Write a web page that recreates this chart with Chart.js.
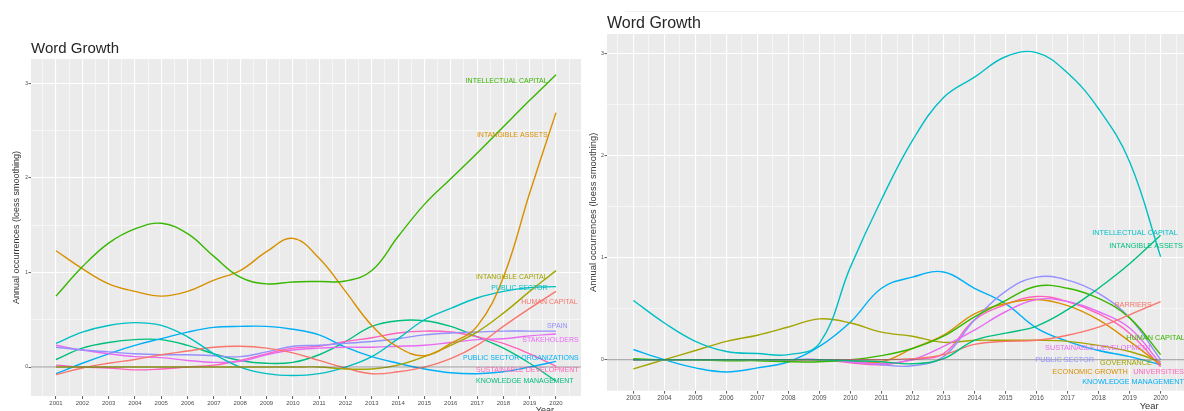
<!DOCTYPE html>
<html>
<head>
<meta charset="utf-8">
<script src="https://cdn.jsdelivr.net/npm/chart.js@4"></script>
<style>
  html, body { margin: 0; padding: 0; background: #fff; overflow: hidden; }
  body { width: 1184px; height: 411px; position: relative; }
  #left { position: absolute; left: 0; top: 0; }
  #right { position: absolute; left: 585px; top: 0; }
  #rule { position: absolute; left: 625px; top: 11px; width: 559px; height: 1px; background: #f1f1f1; }
</style>
</head>
<body>
<canvas id="left" width="585" height="411"></canvas>
<div id="rule"></div>
<canvas id="right" width="605" height="411"></canvas>
<script>
// ---- left panel data (2001-2020) ----
const leftYears = [2001,2002,2003,2004,2005,2006,2007,2008,2009,2010,2011,2012,2013,2014,2015,2016,2017,2018,2019,2020];
const leftIntellectualCapital = [0.75,1.06,1.31,1.46,1.52,1.41,1.17,0.95,0.88,0.90,0.905,0.91,1.02,1.38,1.72,1.99,2.26,2.54,2.82,3.09];
const leftIntangibleAssets    = [1.23,1.04,0.88,0.80,0.75,0.80,0.92,1.02,1.22,1.36,1.15,0.80,0.44,0.21,0.12,0.25,0.43,0.95,1.84,2.69];
const leftIntangibleCapital   = [0,0,0,0,0,0,0,0,0,0,0,-0.02,-0.02,0.02,0.11,0.23,0.37,0.57,0.80,1.02];
const leftPublicSector        = [0.25,0.37,0.44,0.47,0.44,0.32,0.14,0.00,-0.07,-0.09,-0.07,0.00,0.11,0.30,0.50,0.62,0.73,0.80,0.84,0.85];
const leftHumanCapital        = [-0.08,-0.01,0.04,0.08,0.13,0.17,0.21,0.22,0.20,0.15,0.07,-0.01,-0.07,-0.05,0.00,0.09,0.23,0.43,0.62,0.80];
const leftSpain               = [0.21,0.18,0.16,0.14,0.13,0.13,0.12,0.11,0.16,0.22,0.23,0.25,0.27,0.30,0.34,0.36,0.37,0.38,0.38,0.38];
const leftStakeholders        = [0.23,0.18,0.14,0.11,0.10,0.07,0.05,0.06,0.13,0.18,0.20,0.21,0.21,0.22,0.23,0.26,0.29,0.30,0.33,0.35];
const leftPublicSectorOrgs    = [-0.07,0.04,0.14,0.23,0.30,0.37,0.42,0.43,0.43,0.40,0.34,0.21,0.11,0.04,-0.02,-0.06,-0.07,-0.05,0.00,0.06];
const leftSustainableDev      = [0.02,0.00,-0.01,-0.03,-0.02,0.00,0.02,0.07,0.14,0.20,0.22,0.27,0.31,0.36,0.38,0.37,0.32,0.25,0.14,0.01];
const leftKnowledgeMgmt       = [0.08,0.20,0.26,0.29,0.29,0.23,0.14,0.07,0.04,0.05,0.13,0.27,0.43,0.49,0.49,0.43,0.32,0.20,0.04,-0.15];

const leftNames = ['INTELLECTUAL CAPITAL','INTANGIBLE ASSETS','INTANGIBLE CAPITAL','PUBLIC SECTOR','HUMAN CAPITAL',
  'SPAIN','STAKEHOLDERS','PUBLIC SECTOR ORGANIZATIONS','SUSTAINABLE DEVELOPMENT','KNOWLEDGE MANAGEMENT'];
const leftSeries = [leftIntellectualCapital,leftIntangibleAssets,leftIntangibleCapital,leftPublicSector,leftHumanCapital,
  leftSpain,leftStakeholders,leftPublicSectorOrgs,leftSustainableDev,leftKnowledgeMgmt];
const leftColors = ['#39B600','#D89000','#A3A500','#00BFC4','#F8766D','#9590FF','#E76BF3','#00B0F6','#FF62BC','#00BF7D'];
// where each text label sits (year of its right end, value)
const leftLabelYear  = [2019.68,2019.68,2019.68,2019.68,2020.82,2020.44,2020.86,2020.86,2020.86,2020.67];
const leftLabelValue = [3.02,2.45,0.95,0.84,0.69,0.43,0.29,0.09,-0.03,-0.145];
const leftYTicks = [0,1,2,3];

// ---- right panel data (2003-2020) ----
const rightYears = [2003,2004,2005,2006,2007,2008,2009,2010,2011,2012,2013,2014,2015,2016,2017,2018,2019,2020];
const rightIntellectualCapital = [0.58,0.36,0.18,0.08,0.06,0.05,0.16,0.91,1.57,2.15,2.57,2.77,2.97,3.01,2.81,2.46,1.94,1.01];
const rightIntangibleAssets    = [0,0,0,0,0,0,0,-0.01,-0.02,-0.04,0.01,0.19,0.26,0.33,0.49,0.70,0.94,1.22];
const rightBarriers            = [0,0,0,0,0,0,0,0,0,0.01,0.05,0.15,0.18,0.19,0.24,0.32,0.44,0.57];
const rightHumanCapital        = [0.01,0,0,-0.01,-0.01,-0.02,-0.02,0,0.04,0.11,0.23,0.42,0.58,0.72,0.70,0.60,0.41,0.05];
const rightSustainableDev      = [0,0,0,0,0,0,0,-0.02,-0.04,0,0.13,0.29,0.47,0.59,0.57,0.47,0.31,-0.04];
const rightPublicSector        = [0,0,0,0,0,0,0,-0.02,-0.05,-0.06,0.03,0.39,0.67,0.81,0.78,0.65,0.41,0];
const rightGovernance          = [-0.09,0,0.09,0.18,0.24,0.32,0.40,0.36,0.27,0.23,0.17,0.19,0.19,0.19,0.18,0.14,0.08,-0.02];
const rightEconomicGrowth      = [0,0,0,0,0,0,0,-0.01,-0.02,0.11,0.24,0.45,0.55,0.59,0.53,0.39,0.18,-0.05];
const rightUniversities        = [0,0,0,0,0,0,0,-0.03,-0.05,0,0.06,0.39,0.54,0.62,0.57,0.45,0.26,-0.07];
const rightKnowledgeMgmt       = [0.10,0,-0.08,-0.12,-0.08,-0.02,0.13,0.37,0.70,0.81,0.86,0.70,0.55,0.31,0.18,0.09,0.03,-0.05];

const rightNames = ['INTELLECTUAL CAPITAL','INTANGIBLE ASSETS','BARRIERS','HUMAN CAPITAL','SUSTAINABLE DEVELOPMENT',
  'PUBLIC SECTOR','GOVERNANCE','ECONOMIC GROWTH','UNIVERSITIES','KNOWLEDGE MANAGEMENT'];
const rightSeries = [rightIntellectualCapital,rightIntangibleAssets,rightBarriers,rightHumanCapital,rightSustainableDev,
  rightPublicSector,rightGovernance,rightEconomicGrowth,rightUniversities,rightKnowledgeMgmt];
const rightColors = ['#00BFC4','#00BF7D','#F8766D','#39B600','#E76BF3','#9590FF','#A3A500','#D89000','#FF62BC','#00B0F6'];
const rightLabelYear  = [2020.55,2020.72,2019.72,2020.78,2019.72,2017.85,2019.72,2018.94,2020.75,2020.75];
const rightLabelValue = [1.24,1.11,0.54,0.21,0.11,0.0,-0.03,-0.12,-0.12,-0.22];
const rightYTicks = [0,1,2,3];

const FONT = '"Liberation Sans", Arial, Helvetica, sans-serif';

const ggplot = {
  id: 'ggplot',
  beforeDraw(chart) {
    const {ctx, chartArea: a} = chart;
    ctx.save();
    ctx.fillStyle = '#EBEBEB';
    ctx.fillRect(a.left, a.top, a.right - a.left, a.bottom - a.top);
    ctx.restore();
  },
  afterDatasetsDraw(chart, args, o) {
    const {ctx, chartArea: a, scales: {x, y}} = chart;
    // horizontal reference line at zero
    ctx.save();
    ctx.beginPath();
    ctx.rect(a.left, a.top, a.right - a.left, a.bottom - a.top);
    ctx.clip();
    const y0 = y.getPixelForValue(0);
    ctx.strokeStyle = 'rgba(90,90,90,0.6)';
    ctx.lineWidth = 1;
    ctx.beginPath();
    ctx.moveTo(a.left, y0);
    ctx.lineTo(a.right, y0);
    ctx.stroke();
    ctx.restore();

    ctx.save();
    ctx.font = o.labelSize + 'px ' + FONT;
    ctx.textAlign = 'right';
    ctx.textBaseline = 'middle';
    o.names.forEach((n, i) => {
      ctx.fillStyle = o.colors[i];
      ctx.fillText(n, x.getPixelForValue(o.labelYear[i]), y.getPixelForValue(o.labelValue[i]));
    });
    ctx.textAlign = 'left';
    ctx.textBaseline = 'alphabetic';
    ctx.fillStyle = '#262626';
    ctx.font = o.titleSize + 'px ' + FONT;
    ctx.fillText('Word Growth', a.left, a.top - 6);
    ctx.textAlign = 'right';
    ctx.fillStyle = '#333';
    ctx.font = o.yearSize + 'px ' + FONT;
    ctx.fillText('Year', x.getPixelForValue(o.lastYear) - 2, a.bottom + o.yearDrop);
    ctx.restore();
  }
};

function buildChart(id, years, names, series, colors, labelYear, labelValue, yTicks, look) {
  const span = years[years.length - 1] - years[0];
  const xMin = years[0] - 0.05 * span;
  const xMax = years[years.length - 1] + 0.05 * span;
  const xGrid = [];
  for (let v = years[0] - 0.5; v <= years[years.length - 1] + 0.5; v += 0.5) xGrid.push(v);
  const yGrid = [];
  for (let v = -0.5; v <= 3.5; v += 0.5) if (v >= look.yMin && v <= look.yMax) yGrid.push(v);
  const isMajorX = v => years.includes(v);
  const isMajorY = v => yTicks.includes(v);

  new Chart(document.getElementById(id), {
    type: 'line',
    data: {
      datasets: series.map((vals, i) => ({
        label: names[i],
        data: vals.map((v, j) => ({x: years[j], y: v})),
        borderColor: colors[i],
        borderWidth: 1.4,
        pointRadius: 0,
        tension: 0.4,
        fill: false
      }))
    },
    options: {
      responsive: false,
      animation: false,
      events: [],
      layout: {padding: {top: look.padTop, right: look.padRight, left: 0, bottom: 0}},
      plugins: {
        legend: {display: false},
        tooltip: {enabled: false},
        ggplot: {names, colors, labelYear, labelValue, lastYear: years[years.length - 1],
          labelSize: look.labelSize, titleSize: look.titleSize, yearSize: look.yearSize, yearDrop: look.yearDrop}
      },
      scales: {
        x: {
          type: 'linear',
          min: xMin,
          max: xMax,
          afterBuildTicks: s => { s.ticks = xGrid.map(v => ({value: v})); },
          afterFit: s => { s.height = look.xHeight; },
          ticks: {
            autoSkip: false, maxRotation: 0, minRotation: 0, padding: 1,
            color: '#4D4D4D', font: {family: FONT, size: look.tickSize},
            callback: v => isMajorX(v) ? String(v) : ''
          },
          grid: {
            color: '#FFFFFF',
            lineWidth: c => (c.tick && isMajorX(c.tick.value)) ? 1.1 : 0.55,
            tickLength: 3,
            tickWidth: 0.8,
            tickColor: c => (c.tick && isMajorX(c.tick.value)) ? '#333333' : 'rgba(0,0,0,0)'
          },
          border: {display: false}
        },
        y: {
          type: 'linear',
          min: look.yMin,
          max: look.yMax,
          afterBuildTicks: s => { s.ticks = yGrid.map(v => ({value: v})); },
          afterFit: s => { s.width = look.yWidth; },
          ticks: {
            padding: 0.5, color: '#4D4D4D', font: {family: FONT, size: look.yTickSize},
            callback: v => isMajorY(v) ? String(v) : ''
          },
          grid: {
            color: '#FFFFFF',
            lineWidth: c => (c.tick && isMajorY(c.tick.value)) ? 1.1 : 0.55,
            tickLength: 2.5,
            tickWidth: 0.8,
            tickColor: c => (c.tick && isMajorY(c.tick.value)) ? '#333333' : 'rgba(0,0,0,0)'
          },
          border: {display: false},
          title: {
            display: true,
            text: 'Annual occurrences (loess smoothing)',
            color: '#333',
            font: {family: FONT, size: look.axisTitleSize},
            padding: {top: look.axisTitlePad, bottom: 0}
          }
        }
      }
    },
    plugins: [ggplot]
  });
}

buildChart('left', leftYears, leftNames, leftSeries, leftColors, leftLabelYear, leftLabelValue, leftYTicks, {
  yMin: -0.306, yMax: 3.257, padTop: 59, padRight: 4, yWidth: 31, xHeight: 15,
  tickSize: 6, yTickSize: 5, labelSize: 7, titleSize: 15, axisTitleSize: 9, axisTitlePad: 11.6,
  yearSize: 9, yearDrop: 17
});

buildChart('right', rightYears, rightNames, rightSeries, rightColors, rightLabelYear, rightLabelValue, rightYTicks, {
  yMin: -0.304, yMax: 3.193, padTop: 34, padRight: 3, yWidth: 22, xHeight: 20.3,
  tickSize: 6.4, yTickSize: 5.3, labelSize: 7.3, titleSize: 16, axisTitleSize: 9.4, axisTitlePad: 3.1,
  yearSize: 9.4, yearDrop: 18.5
});
</script>
</body>
</html>
